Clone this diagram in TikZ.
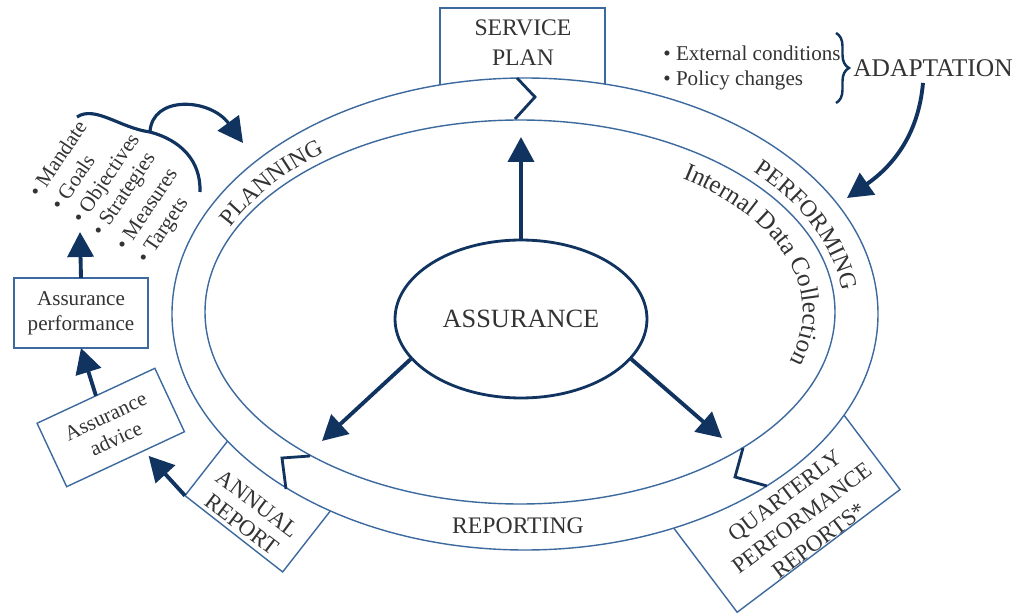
\documentclass[tikz,border=0pt]{standalone}
\usepackage{fontspec}
\setmainfont{Liberation Serif}
\usetikzlibrary{arrows.meta,shapes.geometric,decorations.text,decorations.pathreplacing}
\definecolor{c1}{HTML}{10335F}
\definecolor{c2}{HTML}{3D6A9E}
\definecolor{c3}{HTML}{333333}
\newcommand{\rfont}{\fontsize{13.5}{17}\selectfont}
\newcommand{\sfont}{\fontsize{12}{14}\selectfont}

\tikzset{
	frame/.style = {draw=c2, line width=0.8pt, fill=white, outer sep=0pt, inner sep=0pt},
	arr/.style = {c1, line width=2.2pt, -{Triangle[length=0.5cm, width=0.52cm]}},
	zig/.style = {c1, line width=1.6pt},
	lbl/.style = {text=c3, align=center, font=\rfont},
	sml/.style = {text=c3, align=center, font=\sfont},
}

\begin{document}
\begin{tikzpicture}[x=0.02cm, y=0.02cm]
	\useasboundingbox (0,0) rectangle (1029,-615);

	% boxes on the ring, drawn first so the ring hides their feet
	\node [frame, minimum width=3.3cm, minimum height=1.84cm] (planbox) at (522.5,-54) {};
	\node [frame, minimum width=2.48cm, minimum height=2cm, rotate=-38] (annualbox) at (264.6,-494.4) {};
	\node [frame, minimum width=4.08cm, minimum height=3cm, rotate=37] (quarterbox) at (773.5,-491) {};

	\draw [c2, line width=0.8pt, fill=white] (525,-314) ellipse [x radius=353, y radius=236];
	\draw [c2, line width=0.8pt] (520,-312) ellipse [x radius=315, y radius=192];

	\draw [zig] (517,-78) -- (535,-97) -- (515,-119);
	\draw [zig] (310,-456) -- (282,-458) -- (286,-489);
	\draw [zig] (743,-448) -- (735,-477) -- (767,-486);

	\node [ellipse, draw=c1, line width=1.6pt, minimum width=5.04cm, minimum height=3.16cm, text=c3, font=\fontsize{15}{18}\selectfont] (core) at (521,-319) {ASSURANCE};
	\coordinate (tipplan) at (521,-137);
	\coordinate (tipannual) at (322,-441);
	\coordinate (tipquarter) at (722,-438);
	\draw [arr] (core.north) -- (tipplan);
	\draw [arr] (core.200) -- (tipannual);
	\draw [arr] (core.-20) -- (tipquarter);

	\node [lbl] (plantext) at (523,-43) {SERVICE\\PLAN};
	\node [lbl, rotate=-37, font=\fontsize{13}{15}\selectfont] (annualtext) at (250,-514) {ANNUAL\\REPORT};
	\node [lbl, rotate=37, font=\fontsize{13}{16}\selectfont] (quartertext) at (802,-518) {QUARTERLY\\PERFORMANCE\\REPORTS*};
	\node [lbl] (reporting) at (518,-526) {REPORTING};

	% labels running round the ring
	\path [decorate, decoration={text along path, text={|\rfont\color{c3}|PLANNING}}]
		({522+322*cos(155)}, {-313+203*sin(155)}) arc [start angle=155, end angle=90, x radius=322, y radius=203];
	\path [decorate, decoration={text along path, text={|\rfont\color{c3}|PERFORMING}}]
		({522+322*cos(44)}, {-313+203*sin(44)}) arc [start angle=44, end angle=-20, x radius=322, y radius=203];
	\path [decorate, decoration={text along path, text={|\fontsize{14.3}{16}\selectfont\color{c3}|Internal Data Collection}}]
		({520+283*cos(55)}, {-312+163*sin(55)}) arc [start angle=55, end angle=-60, x radius=283, y radius=163];

	% left side
	\node [frame, sml, minimum width=2.68cm, minimum height=1.4cm] (perf) at (81,-313) {Assurance\\performance};
	\node [frame, sml, minimum width=2.6cm, minimum height=1.4cm, rotate=25] (advice) at (110.75,-427.5) {Assurance\\advice};
	\coordinate (listfoot) at (80,-232);
	\draw [arr] (perf.north) -- (listfoot);
	\draw [arr] (advice.north) -- (perf.south);
	\draw [arr, shorten >=4pt] (annualbox.south west) -- (advice.-60);

	\node [sml, rotate=56, anchor=west, inner sep=0pt] (mandate) at (33,-195) {\textbullet\ Mandate};
	\node [sml, rotate=56, anchor=west, inner sep=0pt] (goals) at (55,-208) {\textbullet\ Goals};
	\node [sml, rotate=56, anchor=west, inner sep=0pt] (objectives) at (78,-222) {\textbullet\ Objectives};
	\node [sml, rotate=56, anchor=west, inner sep=0pt] (strategies) at (98,-235) {\textbullet\ Strategies};
	\node [sml, rotate=56, anchor=west, inner sep=0pt] (measures) at (120,-248) {\textbullet\ Measures};
	\node [sml, rotate=56, anchor=west, inner sep=0pt] (targets) at (143,-262) {\textbullet\ Targets};

	\draw [c1, line width=1.8pt] (77,-117) .. controls (95,-105) and (120,-128) .. (150,-132) coordinate (bj);
	\draw [c1, line width=1.8pt] (bj) .. controls (180,-140) and (201,-160) .. (200,-192);
	\draw [arr, line width=1.8pt] (bj) .. controls (152,-95) and (210,-98) .. (243,-143);

	% right side
	\node [sml, anchor=west, inner sep=0pt] (extcond) at (663,-53) {\textbullet\ External conditions};
	\node [sml, anchor=west, inner sep=0pt] (policy) at (663,-80) {\textbullet\ Policy changes};
	\draw [c1, line width=1.4pt, decorate, decoration={brace, amplitude=0.26cm}] (836,-33) -- (836,-103);
	\node [lbl, font=\fontsize{14.5}{17}\selectfont, anchor=west, inner sep=0pt] (adapt) at (853,-68) {ADAPTATION};
	\coordinate (perfin) at (847,-198);
	\draw [arr] ([xshift=-0.2cm, yshift=-0.12cm]adapt.south) to [out=-95, in=35] (perfin);
\end{tikzpicture}
\end{document}
